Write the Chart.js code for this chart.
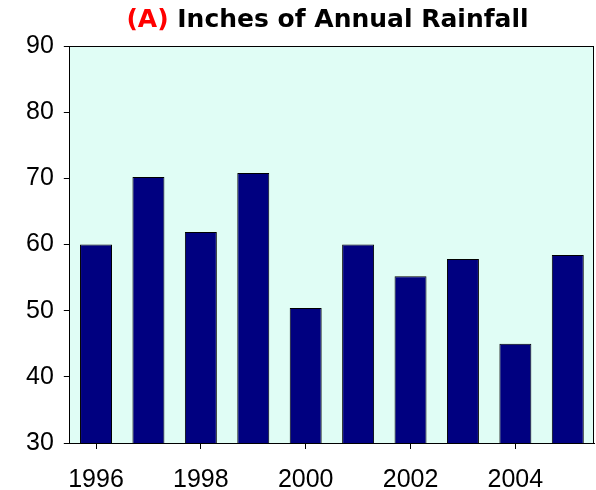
<!DOCTYPE html>
<html>
<head>
<meta charset="utf-8">
<script src="https://cdn.jsdelivr.net/npm/chart.js@4"></script>
<style>
  html, body { margin: 0; padding: 0; background: #ffffff; }
  #wrap { position: relative; width: 596px; height: 490px; }
  #title { position: absolute; left: 0; width: 596px; top: 4px; text-align: center;
           font-family: "DejaVu Sans", sans-serif; font-weight: bold; font-size: 25px; color: #000; padding-left: 59px; box-sizing: border-box; }
  #title .tag { color: #ff0000; }
  canvas { position: absolute; left: 0; top: 0; }
</style>
</head>
<body>
<div id="wrap">
  <canvas id="c" width="596" height="490"></canvas>
  <div id="title"><span class="tag">(A)</span> Inches of Annual Rainfall</div>
</div>
<script>
const years = ["1996","1997","1998","1999","2000","2001","2002","2003","2004","2005"];
const rainfall = [60.0, 70.2, 61.9, 70.8, 50.4, 60.0, 55.2, 57.8, 45.0, 58.4];
const yTicks = [30, 40, 50, 60, 70, 80, 90];

const plotDecor = {
  id: 'plotDecor',
  beforeDatasetsDraw(chart) {
    const a = chart.chartArea, ctx = chart.ctx;
    ctx.save();
    ctx.fillStyle = '#e0fdf5';
    ctx.fillRect(a.left, a.top, a.right - a.left, a.bottom - a.top);
    ctx.restore();
  },
  afterDatasetsDraw(chart) {
    const a = chart.ctx, ar = chart.chartArea;
    a.save();
    a.strokeStyle = '#000';
    a.lineWidth = 1;
    a.strokeRect(Math.round(ar.left) - 0.5, Math.round(ar.top) + 0.5, Math.round(ar.right - ar.left), Math.round(ar.bottom - ar.top));
    a.restore();
  }
};

new Chart(document.getElementById('c'), {
  type: 'bar',
  data: {
    labels: years,
    datasets: [{
      data: rainfall,
      backgroundColor: '#000080',
      borderColor: '#000000',
      borderWidth: 1,
      barPercentage: 0.61,
      categoryPercentage: 1.0
    }]
  },
  options: {
    responsive: false,
    animation: false,
    layout: { padding: { top: 46, right: 2, left: 16, bottom: -21 } },
    plugins: { legend: { display: false }, tooltip: { enabled: false }, title: { display: false } },
    scales: {
      x: {
        grid: {
          offset: false,
          drawOnChartArea: false,
          tickLength: 6,
          tickColor: (c) => (c.index % 2 === 0 ? '#000' : 'rgba(0,0,0,0)')
        },
        border: { display: true, color: '#000' },
        ticks: {
          autoSkip: false,
          maxRotation: 0,
          padding: 16,
          color: '#000',
          font: { family: 'Liberation Sans, Arial, sans-serif', size: 25 },
          callback: function (v, i) { return i % 2 === 0 ? years[i] : ''; }
        }
      },
      y: {
        min: yTicks[0],
        max: yTicks[yTicks.length - 1],
        afterBuildTicks: (axis) => { axis.ticks = yTicks.map(v => ({ value: v })); },
        grid: { drawOnChartArea: false, tickLength: 6, tickColor: '#000' },
        border: { display: true, color: '#333' },
        ticks: {
          padding: 10,
          color: '#000',
          font: { family: 'Liberation Sans, Arial, sans-serif', size: 25 }
        }
      }
    }
  },
  plugins: [plotDecor]
});
</script>
</body>
</html>
